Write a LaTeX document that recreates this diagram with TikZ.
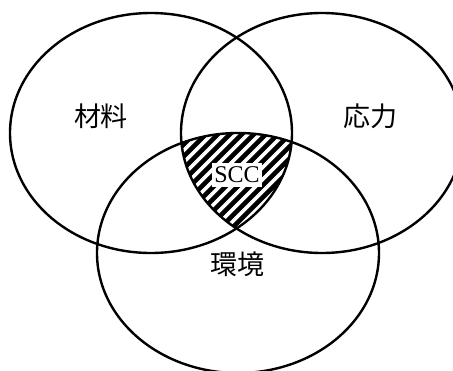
\documentclass[tikz,border=0pt]{standalone}
\usepackage{fontspec}
\usetikzlibrary{calc}
\setmainfont{Liberation Serif}
\newfontfamily\cjk{Noto Sans CJK JP}
\begin{document}
\begin{tikzpicture}[x=1pt,y=-1pt,
  setline/.style={line width=2.4pt,black},
  cjklabel/.style={font=\cjk\fontsize{27}{27}\selectfont,inner sep=0pt},
  hatchline/.style={line width=4.6pt,black}]
\useasboundingbox (0,0) rectangle (453,370);
\coordinate (cL) at (151,133);
\coordinate (cR) at (322,133);
\coordinate (cB) at (238,253);
\begin{scope}
  \clip (0,0) rectangle (453,370);
  \begin{scope}
    \clip (cL) ellipse [x radius=141, y radius=120];
    \clip (cR) ellipse [x radius=141, y radius=120];
    \clip (cB) ellipse [x radius=141, y radius=120];
    \foreach \k in {-14,...,14} {
      \draw[hatchline] ($(237,175)+(\k*12,0)+(-90,90)$) -- ($(237,175)+(\k*12,0)+(90,-90)$);
    }
  \end{scope}
  \draw[setline] (cL) ellipse [x radius=141, y radius=120];
  \draw[setline] (cR) ellipse [x radius=141, y radius=120];
  \draw[setline] (cB) ellipse [x radius=141, y radius=120];
\end{scope}
\node[cjklabel] (mat) at (101,116) {材料};
\node[cjklabel] (str) at (370,116) {応力};
\node[cjklabel] (env) at (237,264) {環境};
\node[fill=white,font=\fontsize{24}{24}\selectfont,inner xsep=2.5pt,inner ysep=3.5pt] (scc) at (237,175) {SCC};
\end{tikzpicture}
\end{document}
